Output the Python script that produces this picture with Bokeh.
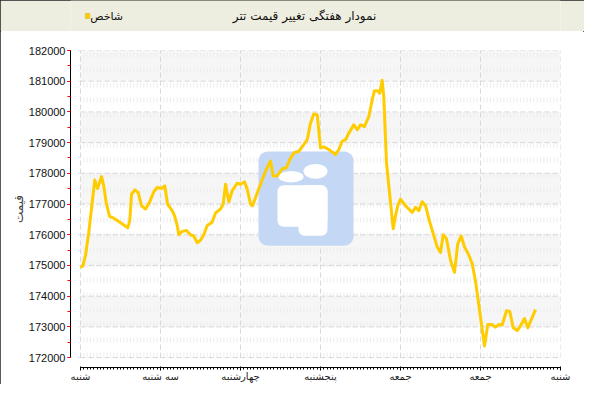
from bokeh.plotting import figure
from bokeh.layouts import column
from bokeh.models import FixedTicker, SingleIntervalTicker, Range1d, BasicTickFormatter
from bokeh.embed import file_html
from bokeh.resources import INLINE
from bokeh.core.properties import value

title_text = "نمودار هفتگی تغییر قیمت تتر"
legend_text = "شاخص"
y_label = "قیمت"
day_ticks = [0, 1, 2, 3, 4, 5, 6]
day_labels = ["شنبه", "سه شنبه", "چهارشنبه", "پنجشنبه", "جمعه", "جمعه", "شنبه"]
price_ticks = [172000, 173000, 174000, 175000, 176000, 177000, 178000, 179000, 180000, 181000, 182000]

days = [0.000, 0.029, 0.063, 0.104, 0.146, 0.179, 0.213, 0.238, 0.263, 0.291,
        0.321, 0.363, 0.416, 0.479, 0.541, 0.591, 0.616, 0.638, 0.679, 0.721,
        0.763, 0.813, 0.863, 0.916, 0.959, 1.013, 1.054, 1.088, 1.146, 1.175,
        1.209, 1.229, 1.271, 1.325, 1.375, 1.416, 1.459, 1.500, 1.541, 1.584,
        1.646, 1.688, 1.750, 1.784, 1.813, 1.854, 1.896, 1.959, 2.000, 2.050,
        2.084, 2.125, 2.150, 2.188, 2.250, 2.313, 2.375, 2.409, 2.459, 2.521,
        2.575, 2.616, 2.666, 2.729, 2.791, 2.834, 2.875, 2.916, 2.959, 3.000,
        3.041, 3.104, 3.188, 3.229, 3.271, 3.313, 3.354, 3.416, 3.459, 3.500,
        3.550, 3.604, 3.646, 3.675, 3.716, 3.741, 3.771, 3.791, 3.825, 3.854,
        3.875, 3.909, 3.938, 3.966, 4.000, 4.063, 4.146, 4.188, 4.229, 4.271,
        4.313, 4.354, 4.416, 4.459, 4.500, 4.534, 4.575, 4.625, 4.675, 4.716,
        4.759, 4.800, 4.854, 4.896, 4.938, 4.979, 5.021, 5.050, 5.091, 5.146,
        5.188, 5.229, 5.271, 5.325, 5.366, 5.409, 5.459, 5.509, 5.550, 5.591,
        5.634, 5.688]
prices = [174930, 174990, 175330, 176085, 177050, 177785, 177505, 177700, 177895, 177590,
          177050, 176600, 176540, 176430, 176320, 176225, 176460, 177320, 177460, 177375,
          176945, 176840, 177055, 177400, 177540, 177505, 177590, 177000, 176785, 176625,
          176300, 176000, 176110, 176140, 176000, 175960, 175740, 175820, 176000, 176300,
          176410, 176710, 176840, 177000, 177645, 177075, 177430, 177680, 177645, 177720,
          177485, 177000, 176945, 177215, 177645, 178075, 178400, 177915, 177915, 178150,
          178180, 178450, 178665, 178720, 178935, 179095, 179635, 179935, 179905, 178830,
          178860, 178775, 178615, 178775, 179045, 179095, 179310, 179580, 179420, 179580,
          179525, 179850, 180390, 180690, 180690, 180605, 181030, 180495, 178345, 177590,
          177055, 176195, 176625, 176945, 177160, 176945, 176730, 176890, 176785, 177075,
          176945, 176515, 175975, 175605, 175420, 176000, 175870, 175170, 174775, 175710,
          175960, 175605, 175335, 175065, 174475, 173720, 172915, 172380, 173075, 173075,
          172990, 173075, 173060, 173525, 173505, 172970, 172880, 173075, 173270, 172970,
          173235, 173560]

FONT = "DejaVu Sans"
W = 584
BAR_H = 31
MAIN_H = 353

# ---------- title bar ----------
bar = figure(width=W, height=BAR_H, x_range=Range1d(0, W), y_range=Range1d(0, BAR_H),
             x_axis_type=None, y_axis_type=None, toolbar_location=None,
             output_backend="svg", min_border=0)
bar.background_fill_color = "#eeeee0"
bar.border_fill_color = "#eeeee0"
bar.outline_line_color = None
bar.xgrid.visible = False
bar.ygrid.visible = False
bar.text(x=[279], y=[BAR_H / 2], text=[title_text], text_align="center",
         text_baseline="middle", text_font=value(FONT), text_font_size="12px",
         text_color="#111111")
bar.rect(x=[20.5], y=[BAR_H / 2], width=5, height=5, fill_color="#ffcc00",
         line_color="#e0a800", line_width=0.5)
bar.text(x=[23.5], y=[BAR_H / 2], text=[legend_text], text_align="left",
         text_baseline="middle", text_font=value(FONT), text_font_size="11px",
         text_color="#111111")

# ---------- main plot ----------
step = price_ticks[1] - price_ticks[0]
y0 = price_ticks[0] - step * 10 / 31
x0 = day_ticks[0] - 10 / 80
p = figure(width=W, height=MAIN_H, x_range=Range1d(x0, day_ticks[-1]),
           y_range=Range1d(y0, price_ticks[-1]), toolbar_location=None,
           output_backend="svg", min_border_left=70, min_border_right=24,
           min_border_top=19, min_border_bottom=14)
p.outline_line_color = None
p.background_fill_color = "white"
p.border_fill_color = "white"
p.xgrid.visible = False
p.ygrid.visible = False

# bands
band_bottoms = price_ticks[1::2]
p.quad(left=day_ticks[0], right=day_ticks[-1], bottom=band_bottoms,
       top=[b + step for b in band_bottoms], fill_color="#f6f6f6", line_color=None)

# minor vertical grid
hours = [i / 24 for i in range(day_ticks[0] * 24, day_ticks[-1] * 24 + 1) if i % 24 != 0]
p.segment(x0=hours, x1=hours, y0=price_ticks[0], y1=price_ticks[-1],
          line_color="#ededed", line_width=1, line_dash="5 10")
# major grid
p.segment(x0=day_ticks[0], x1=day_ticks[-1], y0=price_ticks, y1=price_ticks,
          line_color="#d8d8d8", line_width=1, line_dash="5 3")
p.segment(x0=day_ticks, x1=day_ticks, y0=price_ticks[0], y1=price_ticks[-1],
          line_color="#d8d8d8", line_width=1, line_dash="5 3")

# watermark logo (decorative, placed by pixel position)
def px2x(px):
    return (px - 80) / 80

def px2y(py):
    return price_ticks[-1] - (py - 50) / 31 * step

p.quad(left=px2x(258), right=px2x(353), top=px2y(152), bottom=px2y(247),
       fill_color="#c4d8f5", line_color=None, border_radius=9)
p.ellipse(x=px2x(315), y=px2y(172), width=24 / 80, height=15 / 31 * step,
          fill_color="white", line_color=None)
p.ellipse(x=px2x(290.5), y=px2y(177.5), width=25 / 80, height=11.5 / 31 * step,
          fill_color="white", line_color=None)
p.quad(left=px2x(277), right=px2x(327), top=px2y(186), bottom=px2y(228),
       fill_color="white", line_color=None, border_radius=6)
p.quad(left=px2x(298), right=px2x(327), top=px2y(186), bottom=px2y(237),
       fill_color="white", line_color=None, border_radius=6)

# data line
p.line(days, prices, line_color="#ffcc00", line_width=3, line_join="round")

# axes
xa = p.xaxis[0]
xa.ticker = FixedTicker(ticks=day_ticks, minor_ticks=[i / 24 for i in range(0, 6 * 24 + 1)])
xa.major_label_overrides = {t: l for t, l in zip(day_ticks, day_labels)}
xa.bounds = (day_ticks[0], day_ticks[-1])
xa.axis_line_color = "black"
xa.major_tick_line_color = "black"
xa.minor_tick_line_color = "black"
xa.major_tick_in = 1
xa.major_tick_out = 3
xa.minor_tick_in = 0
xa.minor_tick_out = 2
xa.major_label_standoff = 0
xa.major_label_text_font = FONT
xa.major_label_text_font_size = "10px"
xa.major_label_text_color = "#222222"

ya = p.yaxis[0]
ya.ticker = SingleIntervalTicker(interval=step, num_minor_ticks=2)
ya.formatter = BasicTickFormatter(use_scientific=False)
ya.bounds = (price_ticks[0], price_ticks[-1])
ya.axis_line_color = "black"
ya.major_tick_line_color = "black"
ya.minor_tick_line_color = "red"
ya.major_tick_in = 0
ya.major_tick_out = 3
ya.minor_tick_in = 0
ya.minor_tick_out = 3
ya.major_label_standoff = 2
ya.major_label_text_font = "Liberation Sans"
ya.major_label_text_font_size = "11px"
ya.major_label_text_color = "#111111"
ya.axis_label = y_label
ya.axis_label_text_font = FONT
ya.axis_label_text_font_size = "12px"
ya.axis_label_text_font_style = "normal"
ya.axis_label_standoff = 0

layout = column(bar, p, spacing=0,
                styles={"outline": "1px solid #222222", "outline-offset": "-1px"})
open("out.html", "w").write(file_html(layout, INLINE))
